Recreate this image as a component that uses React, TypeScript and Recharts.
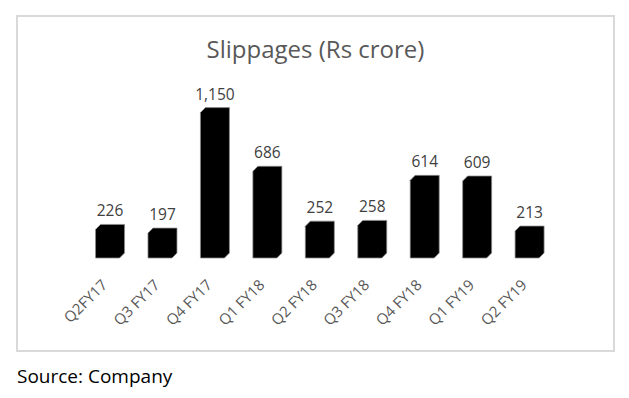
import React from "react"
import { Bar, BarChart, LabelList, XAxis, YAxis } from "recharts"

const quarters = ["Q2FY17", "Q3 FY17", "Q4 FY17", "Q1 FY18", "Q2 FY18", "Q3 FY18", "Q4 FY18", "Q1 FY19", "Q2 FY19"]
const slippages = [226, 197, 1150, 686, 252, 258, 614, 609, 213]

const FONT = "'Open Sans', sans-serif"
const DEPTH = 5

const data = quarters.map((name, i) => ({ name, value: slippages[i] }))

// black bar with a small 3D bevel: front face lower-left, back face up-right
const BevelBar = (props: any) => {
  const { x, y, width, height } = props
  const bottom = y + height
  const d = DEPTH
  const pts = [
    [x, y],
    [x + d, y - d],
    [x + width, y - d],
    [x + width, bottom - d],
    [x + width - d, bottom],
    [x, bottom],
  ]
  return <polygon points={pts.map(p => p.join(",")).join(" ")} fill="#000" stroke="#8c8c8c" strokeWidth={0.75} />
}

const ValueLabel = (props: any) => {
  const { x, y, width, value } = props
  return (
    <text x={x + width / 2} y={y - DEPTH - 8} textAnchor="middle" fill="#404040" fontFamily={FONT} fontSize={15.5}>
      {Number(value).toLocaleString("en-US")}
    </text>
  )
}

const RotTick = (props: any) => {
  const { x, y, payload } = props
  const tx = x - 2
  const ty = y + 20
  return (
    <text x={tx} y={ty} transform={`rotate(-45 ${tx} ${ty})`} textAnchor="end" fill="#595959" fontFamily={FONT} fontSize={15}>
      {payload.value}
    </text>
  )
}

export default function App() {
  return (
    <div style={{ position: "absolute", left: 0, top: 0, width: 629, height: 398, background: "#fff" }}>
      <div style={{ position: "absolute", left: 16, top: 15, width: 599, height: 337, boxSizing: "border-box", border: "2px solid #d9d9d9" }} />
      <div style={{ position: "absolute", left: 16, top: 35, width: 599, textAlign: "center", fontFamily: FONT, fontSize: 24, color: "#595959", lineHeight: "28px" }}>
        Slippages (Rs crore)
      </div>
      <div style={{ position: "absolute", left: 17, top: 365, fontFamily: FONT, fontSize: 19, color: "#000", lineHeight: "22px" }}>
        Source: Company
      </div>
      <div style={{ position: "absolute", left: 0, top: 0 }}>
        <BarChart width={629} height={398} data={data} margin={{ top: 81, right: 73, left: 84, bottom: 80 }} barCategoryGap="22%">
          <XAxis dataKey="name" axisLine={false} tickLine={false} interval={0} height={60} tick={<RotTick />} />
          <YAxis hide domain={[0, 1400]} />
          <Bar dataKey="value" shape={<BevelBar />} isAnimationActive={false}>
            <LabelList dataKey="value" content={<ValueLabel />} />
          </Bar>
        </BarChart>
      </div>
    </div>
  )
}
